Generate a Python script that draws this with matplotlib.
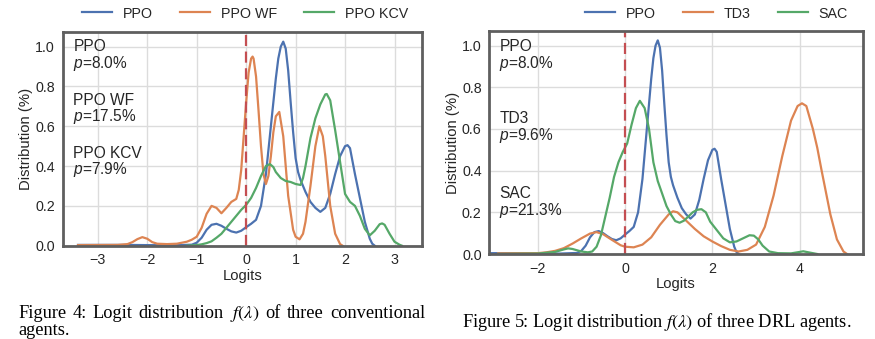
import matplotlib
matplotlib.use("Agg")
import matplotlib.pyplot as plt

# ---------------- data ----------------
ppo_x = [-3.4, -2.5, -1.5, -1.1, -1.0, -0.9, -0.8, -0.7, -0.6, -0.5, -0.4, -0.3, -0.2, -0.1,
         0.0, 0.1, 0.2, 0.3, 0.4, 0.45, 0.5, 0.55, 0.6, 0.65, 0.7, 0.75, 0.8, 0.85, 0.9, 0.95,
         1.0, 1.05, 1.1, 1.2, 1.3, 1.4, 1.5, 1.6, 1.7, 1.8, 1.9, 2.0, 2.05, 2.1, 2.2, 2.3,
         2.4, 2.5, 2.55, 2.6]
ppo_y = [0.004, 0.004, 0.002, 0.005, 0.015, 0.04, 0.08, 0.105, 0.11, 0.1, 0.085, 0.072, 0.066, 0.075,
         0.093, 0.11, 0.13, 0.2, 0.36, 0.48, 0.6, 0.72, 0.84, 0.94, 1.0, 1.025, 0.99, 0.88, 0.72, 0.57,
         0.44, 0.37, 0.33, 0.27, 0.22, 0.19, 0.17, 0.19, 0.26, 0.36, 0.45, 0.5, 0.505, 0.49, 0.36, 0.24,
         0.12, 0.035, 0.01, 0.0]

wf_x = [-3.4, -2.6, -2.4, -2.3, -2.2, -2.1, -2.0, -1.9, -1.8, -1.6, -1.4, -1.2, -1.1, -1.0, -0.9,
        -0.8, -0.7, -0.6, -0.5, -0.4, -0.3, -0.2, -0.15, -0.1, -0.05, 0.0, 0.05, 0.1, 0.13, 0.15, 0.2,
        0.25, 0.3, 0.35, 0.4, 0.45, 0.5, 0.55, 0.6, 0.67, 0.75, 0.85, 0.95, 1.0, 1.08, 1.15, 1.2,
        1.3, 1.4, 1.48, 1.55, 1.6, 1.7, 1.8, 1.9, 1.95]
wf_y = [0.003, 0.004, 0.008, 0.018, 0.033, 0.043, 0.035, 0.018, 0.01, 0.008, 0.01, 0.02, 0.03, 0.045, 0.09,
        0.16, 0.2, 0.19, 0.163, 0.19, 0.22, 0.235, 0.28, 0.38, 0.55, 0.72, 0.87, 0.94, 0.95, 0.94, 0.85,
        0.68, 0.5, 0.36, 0.31, 0.35, 0.45, 0.57, 0.65, 0.672, 0.55, 0.25, 0.08, 0.045, 0.032, 0.06, 0.12,
        0.3, 0.5, 0.6, 0.55, 0.45, 0.2, 0.06, 0.008, 0.0]

kcv_x = [-1.2, -1.0, -0.9, -0.8, -0.7, -0.6, -0.5, -0.4, -0.3, -0.2, -0.1, 0.0, 0.1, 0.2, 0.3,
         0.4, 0.48, 0.55, 0.6, 0.7, 0.8, 0.9, 1.0, 1.1, 1.15, 1.2, 1.3, 1.4, 1.5, 1.6, 1.63, 1.7,
         1.8, 1.9, 2.0, 2.1, 2.2, 2.3, 2.4, 2.5, 2.6, 2.7, 2.75, 2.8, 2.9, 3.0, 3.1, 3.15]
kcv_y = [0.0, 0.003, 0.007, 0.013, 0.022, 0.04, 0.06, 0.09, 0.12, 0.15, 0.18, 0.205, 0.24, 0.29, 0.35,
         0.4, 0.41, 0.395, 0.37, 0.34, 0.325, 0.32, 0.31, 0.305, 0.34, 0.4, 0.54, 0.64, 0.71, 0.76, 0.762, 0.73,
         0.58, 0.42, 0.26, 0.22, 0.2, 0.15, 0.085, 0.052, 0.075, 0.108, 0.112, 0.105, 0.06, 0.02, 0.005, 0.0]

td3_x = [-2.9, -2.0, -1.8, -1.6, -1.4, -1.2, -1.0, -0.8, -0.65, -0.5, -0.3, -0.1, 0.0, 0.2, 0.4,
         0.6, 0.8, 1.0, 1.1, 1.2, 1.4, 1.6, 1.8, 2.0, 2.2, 2.4, 2.6, 2.8, 3.0, 3.2, 3.4, 3.6, 3.8,
         3.95, 4.05, 4.15, 4.3, 4.4, 4.5, 4.7, 4.85, 5.0, 5.08]
td3_y = [0.003, 0.004, 0.008, 0.015, 0.028, 0.05, 0.075, 0.098, 0.105, 0.095, 0.068, 0.042, 0.035, 0.032, 0.045,
         0.08, 0.14, 0.19, 0.205, 0.2, 0.16, 0.12, 0.085, 0.06, 0.038, 0.02, 0.012, 0.02, 0.045, 0.13, 0.28, 0.47, 0.64,
         0.71, 0.723, 0.71, 0.6, 0.51, 0.4, 0.19, 0.07, 0.012, 0.0]

sac_x = [-2.9, -2.0, -1.6, -1.4, -1.3, -1.2, -1.0, -0.85, -0.75, -0.65, -0.55, -0.45, -0.35, -0.25,
         -0.15, -0.05, 0.05, 0.15, 0.25, 0.34, 0.45, 0.55, 0.65, 0.75, 0.85, 0.95, 1.05, 1.15, 1.25,
         1.35, 1.45, 1.55, 1.65, 1.75, 1.85, 1.95, 2.1, 2.25, 2.4, 2.55, 2.7, 2.85, 2.95, 3.05, 3.15,
         3.3, 3.5, 3.8, 4.0, 4.08, 4.2, 4.4]
sac_y = [0.0, 0.002, 0.01, 0.022, 0.027, 0.024, 0.012, 0.008, 0.012, 0.035, 0.09, 0.18, 0.27, 0.37,
         0.44, 0.49, 0.53, 0.62, 0.7, 0.735, 0.7, 0.6, 0.44, 0.35, 0.29, 0.23, 0.19, 0.158, 0.15,
         0.16, 0.18, 0.2, 0.212, 0.215, 0.2, 0.155, 0.115, 0.075, 0.056, 0.06, 0.075, 0.09, 0.088, 0.07, 0.04,
         0.012, 0.004, 0.003, 0.01, 0.013, 0.008, 0.0]

left_names = ["PPO", "PPO WF", "PPO KCV"]
left_p = ["8.0%", "17.5%", "7.9%"]
right_names = ["PPO", "TD3", "SAC"]
right_p = ["8.0%", "9.6%", "21.3%"]
left_xticks = [-3, -2, -1, 0, 1, 2, 3]
right_xticks = [-2, 0, 2, 4]
yticks = [0.0, 0.2, 0.4, 0.6, 0.8, 1.0]
caption4_words = ["Figure", "4:", "Logit", "distribution", r"$f(\lambda)$", "of", "three", "conventional"]
caption4_line2 = "agents."
caption5 = r"Figure 5: Logit distribution $f(\lambda)$ of three DRL agents."

# ---------------- style ----------------
plt.rcParams['font.family'] = ['Liberation Sans', 'DejaVu Sans']
plt.rcParams['mathtext.fontset'] = 'custom'
plt.rcParams['mathtext.it'] = 'Liberation Sans:italic'
plt.rcParams['mathtext.rm'] = 'Liberation Sans'

BLUE = "#4C72B0"
ORANGE = "#DD8452"
GREEN = "#55A868"
RED = "#C44E52"
FS_TICK = 10.3
FS_LAB = 10.7
FS_LEG = 10.3
FS_ANN = 11.2
TXT = "#262626"

W, H = 875, 339
fig = plt.figure(figsize=(W / 100, H / 100), dpi=100)


def px_axes(l, r, t, b):
    return fig.add_axes([l / W, 1 - b / H, (r - l) / W, (b - t) / H])


ax1 = px_axes(62.7, 421.7, 31.7, 245.7)
ax2 = px_axes(489.3, 862.7, 31.0, 254.0)


def style(ax, xticks, xlim, ylim):
    ax.set_xlim(*xlim)
    ax.set_ylim(*ylim)
    ax.set_xticks(xticks)
    ax.set_xticklabels([("\u2212%d" % -t) if t < 0 else str(t) for t in xticks])
    ax.set_yticks(yticks)
    ax.set_yticklabels(["%.1f" % v for v in yticks])
    ax.grid(True, color="#dcdcdc", lw=1.0)
    ax.set_axisbelow(True)
    ax.tick_params(length=0, labelsize=FS_TICK, colors=TXT, pad=5.5)
    for s in ax.spines.values():
        s.set_color("#5f5f5f")
        s.set_linewidth(2.0)
    ax.set_xlabel("Logits", fontsize=FS_LAB, color=TXT, labelpad=1)
    ax.set_ylabel("Distribution (%)", fontsize=FS_LAB, color=TXT, labelpad=1.5)


lw = 1.6
dash = (0, (5, 2.5))
ax1.plot(ppo_x, ppo_y, color=BLUE, lw=lw, label=left_names[0])
ax1.plot(wf_x, wf_y, color=ORANGE, lw=lw, label=left_names[1])
ax1.plot(kcv_x, kcv_y, color=GREEN, lw=lw, label=left_names[2])
ax1.axvline(0, color=RED, lw=1.6, ls=dash)
style(ax1, left_xticks, (-3.71, 3.55), (0, 1.075))

ax2.plot(ppo_x, ppo_y, color=BLUE, lw=lw, label=right_names[0])
ax2.plot(td3_x, td3_y, color=ORANGE, lw=lw, label=right_names[1])
ax2.plot(sac_x, sac_y, color=GREEN, lw=lw, label=right_names[2])
ax2.axvline(0, color=RED, lw=1.6, ls=dash)
style(ax2, right_xticks, (-3.105, 5.44), (0, 1.07))

# legends: right edge ~14 px inside the axes' right edge, centred ~13 px from the top
for ax, rx, cy in [(ax1, 408.0, 13.5), (ax2, 848.0, 13.5)]:
    leg = ax.legend(loc="center right", bbox_to_anchor=(rx / W, 1 - cy / H),
                    bbox_transform=fig.transFigure, ncol=3, frameon=False,
                    fontsize=FS_LEG, handlelength=2.1, columnspacing=1.9, handletextpad=0.75,
                    borderaxespad=0, borderpad=0)
    for t in leg.get_texts():
        t.set_color(TXT)

for ax, names, ps, xs, ys in [(ax1, left_names, left_p, 0.03, [0.886, 0.637, 0.388]),
                              (ax2, right_names, right_p, 0.027, [0.887, 0.564, 0.23])]:
    for n, p, yy in zip(names, ps, ys):
        ax.text(xs, yy, n + "\n$p$=" + p, transform=ax.transAxes,
                fontsize=FS_ANN, color=TXT, va="center", ha="left", linespacing=0.97)

# ---------------- captions ----------------
CAPFS = 13.2
serif = ['Liberation Serif', 'DejaVu Serif']
fig.canvas.draw()
renderer = fig.canvas.get_renderer()
texts = []
for wd in caption4_words:
    t = fig.text(0, 1 - 318 / H, wd, fontsize=CAPFS, family=serif, math_fontfamily='stix',
                 ha='left', va='baseline', color='black')
    texts.append(t)
widths = [t.get_window_extent(renderer).width for t in texts]
x0, x1 = 18.0, 425.0
gap = (x1 - x0 - sum(widths)) / (len(texts) - 1)
xpos = x0
for t, w in zip(texts, widths):
    t.set_x(xpos / W)
    xpos += w + gap
fig.text(x0 / W, 1 - 335 / H, caption4_line2, fontsize=CAPFS, family=serif,
         ha='left', va='baseline', color='black')
fig.text(461.7 / W, 1 - 327 / H, caption5, fontsize=CAPFS, family=serif, math_fontfamily='stix',
         ha='left', va='baseline', color='black')

fig.savefig("out.png", dpi=100)
